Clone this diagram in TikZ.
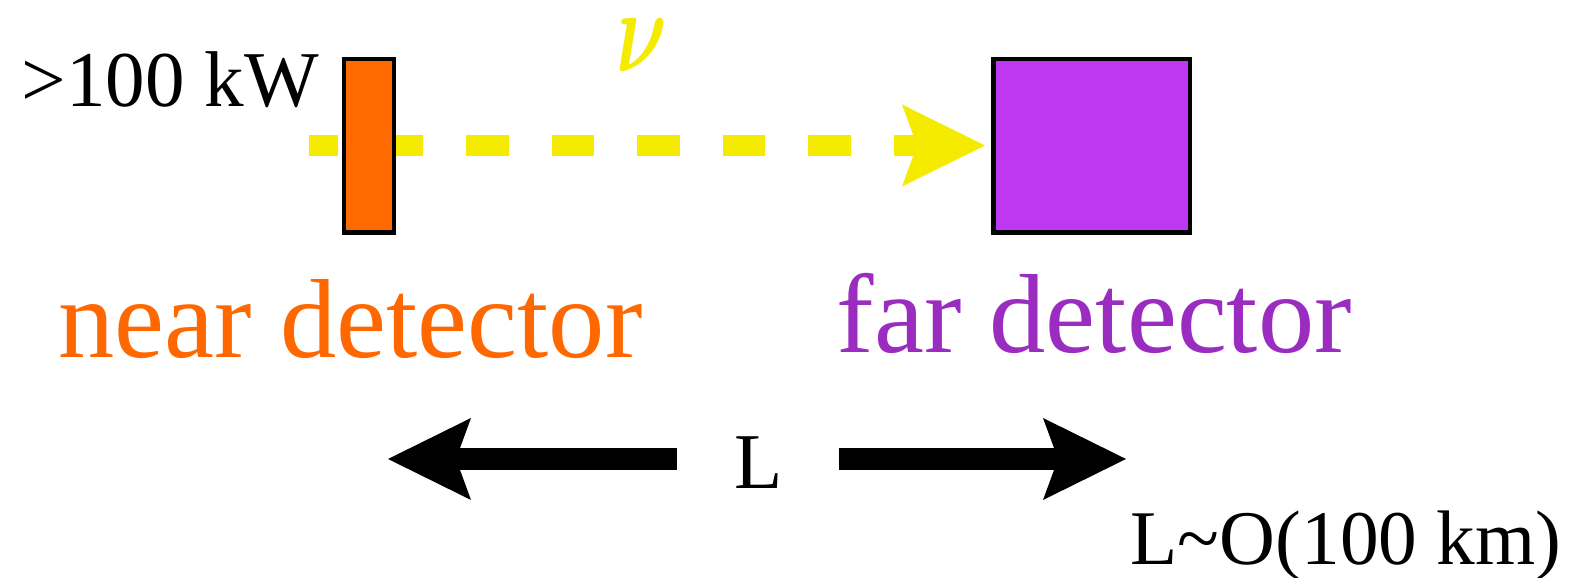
\documentclass[tikz,border=0pt]{standalone}
\usepackage{amsmath}
\usepackage{graphicx}
\usepackage{fontspec}
\setmainfont{Liberation Serif}
\usetikzlibrary{arrows.meta,backgrounds}
\definecolor{nearorange}{RGB}{255,106,0}
\definecolor{nearlabel}{RGB}{255,104,0}
\definecolor{farpurple}{RGB}{190,56,242}
\definecolor{farlabel}{RGB}{155,44,192}
\definecolor{nuyellow}{RGB}{245,235,0}

\begin{document}
\begin{tikzpicture}[
  detbox/.style={draw=black, line width=0.045cm, inner sep=0pt, minimum height=1.735cm},
  lbl/.style={font=\fontsize{22.5}{27}\selectfont, inner sep=0pt},
  bigtext/.style={font=\fontsize{32}{38}\selectfont, inner sep=0pt},
  beam/.style={nuyellow, line width=0.21cm, dash pattern=on 0.425cm off 0.43cm, dash phase=0.14cm,
    -{Stealth[length=0.83cm, width=0.82cm, inset=0.15cm, line width=0pt]}},
  span/.style={line width=0.22cm, -{Stealth[length=0.83cm, width=0.82cm, inset=0.15cm, line width=0pt]}}]
  \useasboundingbox (0,0) rectangle (15.80,5.78);
  \coordinate (beamstart) at (3.090,4.325);
  \node[detbox, fill=nearorange, minimum width=0.500cm] (near) at (3.688,4.320) {};
  \node[detbox, fill=farpurple, minimum width=1.965cm] (far) at (10.915,4.320) {};
  \begin{scope}[on background layer]
    \draw[beam, shorten >=0.06cm] (beamstart) -- (far.west |- beamstart);
  \end{scope}
  \node[font=\fontsize{31}{34}\selectfont, text=nuyellow, inner sep=0pt, anchor=base] (nu) at (6.420,5.060) {\scalebox{0.9}[1.35]{$\boldsymbol{\nu}$}};
  \node[lbl, anchor=base west] (power) at (0.210,4.710) {>100 kW};
  \node[bigtext, text=nearlabel, anchor=base west] (nearname) at (0.580,2.200) {near detector};
  \node[bigtext, text=farlabel, anchor=base west] (farname) at (8.360,2.250) {far detector};
  \node[lbl, anchor=base] (len) at (7.590,0.890) {L};
  \coordinate (lftend) at (3.880,1.190);
  \coordinate (rgtend) at (11.260,1.190);
  \draw[span, shorten <=0.82cm] (len.center |- lftend) -- (lftend);
  \draw[span, shorten <=0.80cm] (len.center |- rgtend) -- (rgtend);
  \node[lbl, font=\fontsize{22}{26}\selectfont, anchor=base west] (range) at (11.300,0.130) {L\textasciitilde O(100 km)};
\end{tikzpicture}
\end{document}
